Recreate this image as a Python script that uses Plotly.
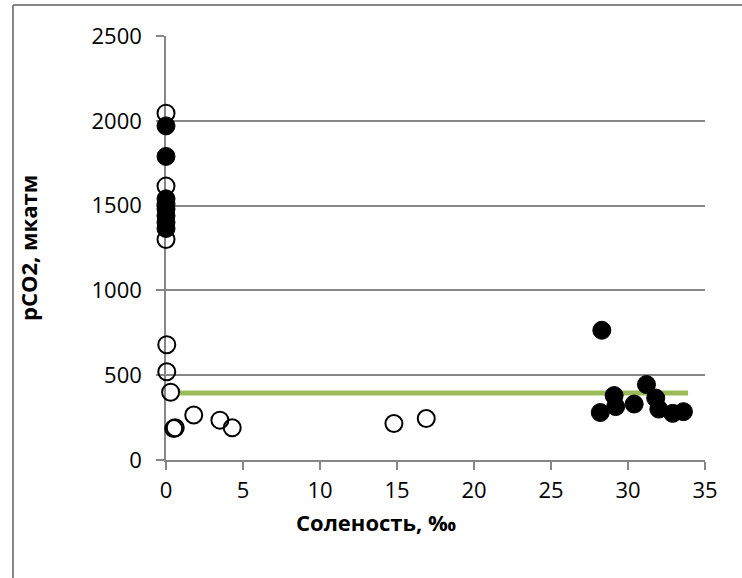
import plotly.graph_objects as go

# Open circles (no fill)
open_x = [0, 0, 0, 0.05, 0.05, 0.3, 0.5, 0.6, 1.8, 3.5, 4.3, 14.8, 16.9]
open_y = [2045, 1615, 1300, 680, 520, 400, 185, 190, 265, 235, 190, 215, 245]

# Filled circles (black)
filled_x = [0, 0, 0, 0, 0, 0, 0, 0, 28.3, 28.2, 29.1, 29.2, 30.4, 31.2, 31.8, 32.0, 32.9, 33.6]
filled_y = [1970, 1790, 1540, 1510, 1480, 1440, 1400, 1365, 765, 280, 380, 315, 330, 445, 365, 300, 275, 285]

# Atmospheric level line
line_x = [0.9, 33.9]
line_y = [395, 395]

x_ticks = [0, 5, 10, 15, 20, 25, 30, 35]
y_ticks = [0, 500, 1000, 1500, 2000, 2500]

W, H = 742, 578
L, R, T, B = 166, 37, 36, 118
pw, ph = W - L - R, H - T - B

def px(xp):
    return (xp - L) / pw

def py(yp):
    return (H - B - yp) / ph

GRAY = "#868686"
FONT = "Open Sans"

fig = go.Figure()
fig.add_trace(go.Scatter(x=line_x, y=line_y, mode="lines",
                         line=dict(color="#9BBB59", width=5), showlegend=False,
                         hoverinfo="skip", cliponaxis=False))
fig.add_trace(go.Scatter(x=open_x, y=open_y, mode="markers", cliponaxis=False,
                         marker=dict(size=17, color="rgba(0,0,0,0)", line=dict(color="black", width=2)),
                         showlegend=False))
fig.add_trace(go.Scatter(x=filled_x, y=filled_y, mode="markers", cliponaxis=False,
                         marker=dict(size=18, color="black", line=dict(color="black", width=1)),
                         showlegend=False))

fig.update_layout(
    width=W, height=H,
    margin=dict(l=L, r=R, t=T, b=B),
    paper_bgcolor="white", plot_bgcolor="white",
    font=dict(family=FONT, size=22, color="black"),
    xaxis=dict(range=[0, 35], tickvals=x_ticks, showgrid=False, zeroline=False,
               showline=True, linecolor=GRAY, linewidth=1.5, layer="below traces",
               ticks="outside", ticklen=8, tickcolor=GRAY, tickwidth=1.5,
               tickfont=dict(size=22, family=FONT), ticklabelstandoff=2),
    yaxis=dict(range=[0, 2500], tickvals=y_ticks, showgrid=True, gridcolor=GRAY,
               gridwidth=1.5, zeroline=False, layer="below traces",
               showline=True, linecolor=GRAY, linewidth=1.5,
               ticks="outside", ticklen=8, tickcolor=GRAY, tickwidth=1.5,
               tickfont=dict(size=22, family=FONT), ticklabelstandoff=10),
    shapes=[
        dict(type="line", xref="paper", yref="paper", x0=px(13), x1=px(760), y0=py(5), y1=py(5),
             line=dict(color=GRAY, width=2)),
        dict(type="line", xref="paper", yref="paper", x0=px(13), x1=px(13), y0=py(5), y1=py(600),
             line=dict(color=GRAY, width=2)),
    ],
    annotations=[
        dict(text="<b>Соленость, ‰</b>", xref="paper", yref="paper", x=px(376), y=py(522),
             showarrow=False, font=dict(size=22, family=FONT), xanchor="center", yanchor="middle"),
        dict(text="<b>pCO2, мкатм</b>", xref="paper", yref="paper", x=px(28), y=py(248),
             showarrow=False, font=dict(size=22, family=FONT), textangle=-90,
             xanchor="center", yanchor="middle"),
    ],
)

fig.write_html("out.html")
